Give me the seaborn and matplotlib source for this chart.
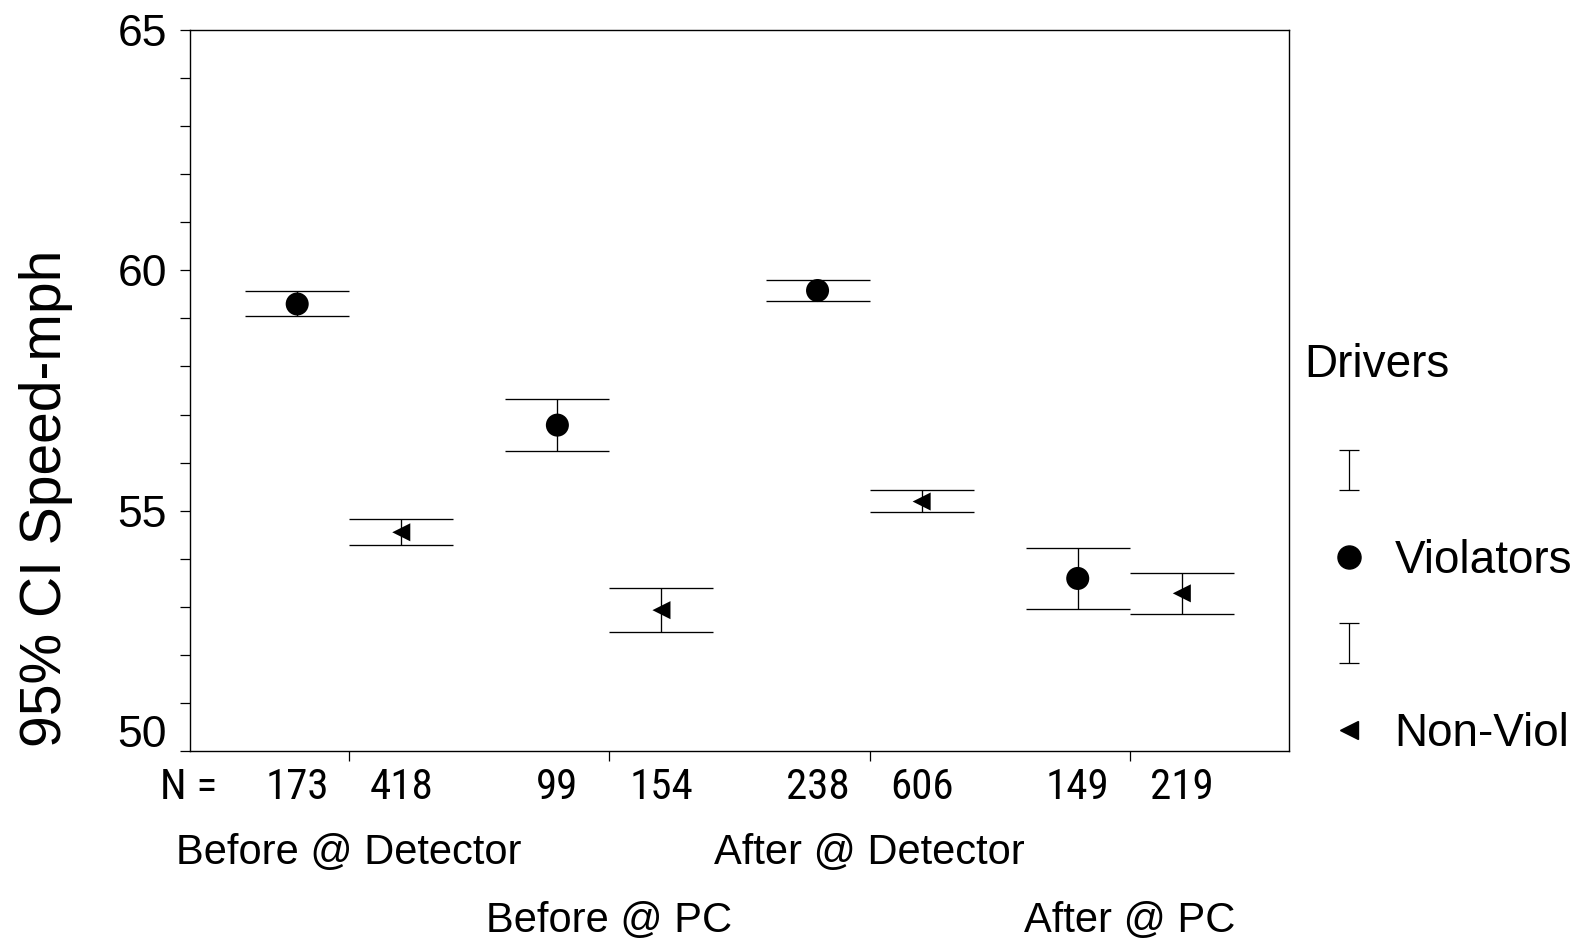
import numpy as np
import pandas as pd
import matplotlib
matplotlib.use("Agg")
import matplotlib.pyplot as plt
import matplotlib.transforms as mtransforms
from matplotlib import font_manager
from matplotlib.lines import Line2D
from matplotlib.path import Path
import seaborn as sns

# ---------------- data ----------------
categories = ["Before @ Detector", "Before @ PC", "After @ Detector", "After @ PC"]
groups = ["Violators", "Non-Viol"]

viol_mean = [59.30, 56.78, 59.58, 53.59]
viol_lo = [59.04, 56.25, 59.36, 52.96]
viol_hi = [59.56, 57.32, 59.80, 54.22]
viol_n = [173, 99, 238, 149]

non_mean = [54.55, 52.93, 55.19, 53.28]
non_lo = [54.28, 52.47, 54.97, 52.84]
non_hi = [54.83, 53.39, 55.42, 53.70]
non_n = [418, 154, 606, 219]

# ---------------- style ----------------
sns.set_style("ticks")
plt.rcParams["font.family"] = ["Liberation Sans", "DejaVu Sans"]
for k in ["text.color", "axes.labelcolor", "xtick.color", "ytick.color", "axes.edgecolor"]:
    plt.rcParams[k] = "black"

# counts are set in a narrow face if one is around
installed = {f.name for f in font_manager.fontManager.ttflist}
narrow = "Liberation Sans"
for name in ["Liberation Sans Narrow", "Arial Narrow", "Roboto Condensed", "Open Sans Condensed"]:
    if name in installed:
        narrow = name
        break
narrow_size = 30 if narrow == "Liberation Sans" else 31

W, H, DPI = 1587, 944, 100
fig = plt.figure(figsize=(W / DPI, H / DPI), dpi=DPI)
ax = fig.add_axes([190 / W, 1 - 751 / H, (1289 - 190) / W, (751 - 30) / H])

dodge = 0.2
cap = 0.2
idx = np.arange(len(categories))

df = pd.DataFrame({
    "category": categories * 2,
    "group": [groups[0]] * 4 + [groups[1]] * 4,
    "x": np.concatenate([idx - dodge, idx + dodge]),
    "mean": viol_mean + non_mean,
    "lo": viol_lo + non_lo,
    "hi": viol_hi + non_hi,
    "n": viol_n + non_n,
})

# error bars: stem + wide caps
ax.vlines(df["x"], df["lo"], df["hi"], color="black", lw=0.95, zorder=2)
ax.hlines(df["lo"], df["x"] - cap, df["x"] + cap, color="black", lw=0.95, zorder=2)
ax.hlines(df["hi"], df["x"] - cap, df["x"] + cap, color="black", lw=0.95, zorder=2)

sns.scatterplot(data=df, x="x", y="mean", style="group", size="group",
                markers={"Violators": "o", "Non-Viol": "<"},
                sizes={"Violators": 275, "Non-Viol": 169},
                color="black", linewidth=0, legend=False, ax=ax, zorder=3)

# ---------------- axes ----------------
ax.set_xlim(-0.612, 3.612)
ax.set_ylim(50, 65)
for s in ax.spines.values():
    s.set_linewidth(1.0)
    s.set_color("black")
    s.set_visible(True)

ax.set_yticks([50, 55, 60, 65])
ax.set_yticks(np.arange(50, 66, 1), minor=True)
ax.set_yticklabels(["50", "55", "60", "65"], fontsize=32)
ax.tick_params(axis="y", which="both", length=7.2, width=0.9, direction="out", pad=9.4)

ax.set_xticks(idx)
ax.set_xticklabels(categories, fontsize=30)
ax.set_xticks(df["x"], minor=True)
ax.set_xticklabels([str(v) for v in df["n"]], minor=True, fontsize=narrow_size, fontfamily=narrow)
ax.tick_params(axis="x", which="major", length=7.2, width=0.9, direction="out", pad=52)
ax.tick_params(axis="x", which="minor", length=0, pad=11.5)
ax.set_xlabel("")

# stagger the category labels
for i, lab in enumerate(ax.get_xticklabels()):
    if i % 2 == 1:
        lab.set_transform(lab.get_transform() +
                          mtransforms.ScaledTranslation(0, -0.68, fig.dpi_scale_trans))
# the bottom "50" sits above its tick
lab50 = ax.get_yticklabels()[0]
lab50.set_transform(lab50.get_transform() +
                    mtransforms.ScaledTranslation(0, 0.20, fig.dpi_scale_trans))

ax.text(160 / W, 1 - 767 / H, "N =", transform=fig.transFigure, ha="left", va="top",
        fontsize=narrow_size, fontfamily=narrow)

ax.set_ylabel("95% CI Speed-mph", fontsize=41, va="center")
ax.yaxis.set_label_coords(-0.131, 0.351)

# ---------------- legend ----------------
ibar = Path([(-0.5, 1), (0.5, 1), (0, 1), (0, -1), (-0.5, -1), (0.5, -1)],
            [Path.MOVETO, Path.LINETO, Path.MOVETO, Path.LINETO, Path.MOVETO, Path.LINETO])
bar_handle = Line2D([], [], ls="none", marker=ibar, markersize=29.5, markerfacecolor="none",
                    markeredgecolor="black", markeredgewidth=0.9)
viol_handle = Line2D([], [], ls="none", marker="o", markersize=16.6, color="black")
non_handle = Line2D([], [], ls="none", marker="<", markersize=13, color="black")

ax.legend([bar_handle, viol_handle, bar_handle, non_handle], ["", "Violators", "", "Non-Viol"],
          loc="upper left", bbox_to_anchor=(1326 / W, 1 - 452 / H), bbox_transform=fig.transFigure,
          frameon=False, borderpad=0, borderaxespad=0, handlelength=1.0, handletextpad=0.5,
          labelspacing=0.93, fontsize=33)
fig.text(1304 / W, 1 - 365 / H, "Drivers", ha="left", va="center", fontsize=33)

fig.savefig("out.png", dpi=DPI)
